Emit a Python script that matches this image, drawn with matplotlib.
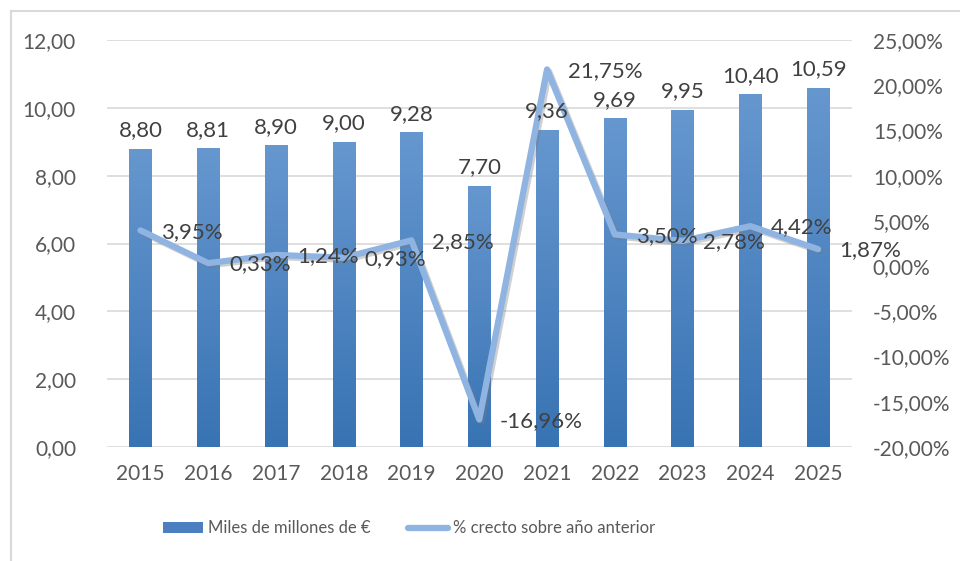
import matplotlib.pyplot as plt
import matplotlib.patheffects as pe
import numpy as np
from matplotlib.lines import Line2D
from matplotlib.patches import Patch
from matplotlib.colors import LinearSegmentedColormap

years = ['2015', '2016', '2017', '2018', '2019', '2020', '2021', '2022', '2023', '2024', '2025']
miles_millones = [8.80, 8.81, 8.90, 9.00, 9.28, 7.70, 9.36, 9.69, 9.95, 10.40, 10.59]
crec_pct = [3.95, 0.33, 1.24, 0.93, 2.85, -16.96, 21.75, 3.50, 2.78, 4.42, 1.87]

left_ticks = [0, 2, 4, 6, 8, 10, 12]
right_ticks = [-20, -15, -10, -5, 0, 5, 10, 15, 20, 25]

txt = '#595959'
plt.rcParams['font.family'] = ['Lato', 'DejaVu Sans']

def coma(v, suf=''):
    return f'{v:.2f}'.replace('.', ',') + suf

fig = plt.figure(figsize=(9.6, 5.61), dpi=100)
ax1 = fig.add_axes([0.111, 0.2032, 0.7765, 0.7255])
ax2 = ax1.twinx()

x = np.arange(len(years))
bars = ax1.bar(x, miles_millones, width=0.33, color='#4a80bf', zorder=2)

# vertical gradient inside each bar (darker at the bottom)
grad = np.linspace(0, 1, 256).reshape(-1, 1)
cmap = LinearSegmentedColormap.from_list('b', ['#3873b3', '#6697cf'])
for b in bars:
    bx, by = b.get_x(), b.get_y()
    im = ax1.imshow(grad, extent=(bx, bx + b.get_width(), by, by + b.get_height()),
                    cmap=cmap, aspect='auto', zorder=2.1, origin='lower')
    im.set_clip_path(b)

ax1.set_xlim(-0.5, len(years) - 0.5)
ax1.set_ylim(0, 12)
ax1.set_yticks(left_ticks)
ax1.set_yticklabels([coma(t) for t in left_ticks])
ax1.set_xticks(x)
ax1.set_xticklabels(years)
ax1.grid(axis='y', color='#d9d9d9', linewidth=1.2, zorder=0)
ax1.set_axisbelow(True)

ax2.set_ylim(-20, 25)
ax2.set_yticks(right_ticks)
ax2.set_yticklabels([coma(t, '%') for t in right_ticks])

ax2.plot(x, crec_pct, color='#8fb4e2', linewidth=4.5, solid_joinstyle='round',
         solid_capstyle='round', zorder=3,
         path_effects=[pe.SimpleLineShadow(offset=(1.5, -1.5), shadow_color='#7a7a7a', alpha=0.35),
                       pe.Normal()])

for ax in (ax1, ax2):
    for s in ax.spines.values():
        s.set_visible(False)
    ax.tick_params(length=0, colors=txt, labelsize=15)
ax1.tick_params(axis='y', pad=22)
ax1.tick_params(axis='x', pad=12)
ax2.tick_params(axis='y', pad=15)

# bar labels (drawn on ax2 so they sit over the line)
for xi, v in zip(x, miles_millones):
    ax2.annotate(coma(v), xy=(xi, v), xytext=(0, 6),
                 xycoords=ax1.transData, textcoords='offset points',
                 ha='center', va='bottom', fontsize=16, color='#404040', zorder=5)

for xi, v in zip(x, crec_pct):
    ax2.annotate(coma(v, '%'), xy=(xi, v), xytext=(15, -1),
                 textcoords='offset points', ha='left', va='center',
                 fontsize=16, color='#404040', zorder=5)

handles = [Patch(facecolor='#4a80bf', edgecolor='none'),
           Line2D([0], [0], color='#8fb4e2', linewidth=4.5, solid_capstyle='round')]
fig.legend(handles, ['Miles de millones de €', '% crecto sobre año anterior'],
           loc='center', bbox_to_anchor=(0.426, 0.058), ncol=2, frameon=False,
           fontsize=12, labelcolor=txt, handlelength=2.4, handleheight=0.7,
           columnspacing=2.2, handletextpad=0.3)

# outer chart border (top and left only are visible)
fig.add_artist(Line2D([0.0115, 0.0115], [0, 0.981], color='#d9d9d9', linewidth=1.5))
fig.add_artist(Line2D([0.0115, 1], [0.981, 0.981], color='#d9d9d9', linewidth=1.5))

fig.savefig('out.png', dpi=100)
